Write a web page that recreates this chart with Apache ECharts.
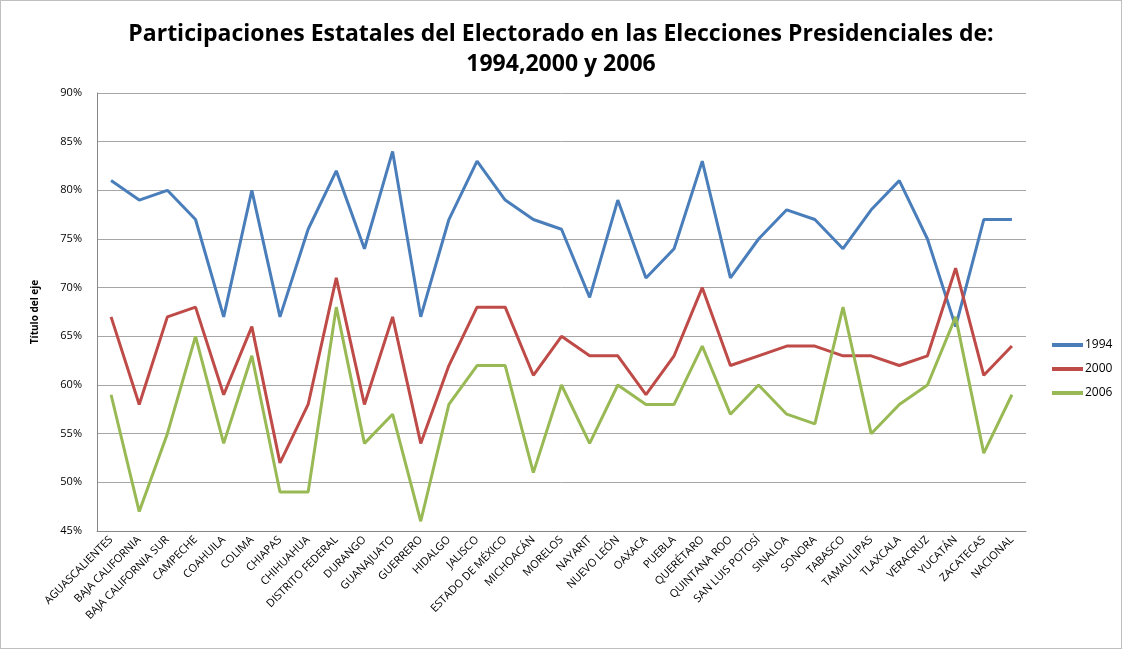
<!DOCTYPE html>
<html>
<head>
<meta charset="utf-8">
<script src="https://cdn.jsdelivr.net/npm/echarts@6/dist/echarts.min.js"></script>
<style>
html,body{margin:0;padding:0;background:#fff;}
#chart{width:1120px;height:647px;border:1px solid #bfbfbf;}
</style>
</head>
<body>
<div id="chart"></div>
<script>
const categories = ["AGUASCALIENTES","BAJA CALIFORNIA","BAJA CALIFORNIA SUR","CAMPECHE","COAHUILA","COLIMA","CHIAPAS","CHIHUAHUA","DISTRITO FEDERAL","DURANGO","GUANAJUATO","GUERRERO","HIDALGO","JALISCO","ESTADO DE MÉXICO","MICHOACÁN","MORELOS","NAYARIT","NUEVO LEÓN","OAXACA","PUEBLA","QUERÉTARO","QUINTANA ROO","SAN LUIS POTOSÍ","SINALOA","SONORA","TABASCO","TAMAULIPAS","TLAXCALA","VERACRUZ","YUCATÁN","ZACATECAS","NACIONAL"];
const values1994 = [81,79,80,77,67,80,67,76,82,74,84,67,77,83,79,77,76,69,79,71,74,83,71,75,78,77,74,78,81,75,66,77,77];
const values2000 = [67,58,67,68,59,66,52,58,71,58,67,54,62,68,68,61,65,63,63,59,63,70,62,63,64,64,63,63,62,63,72,61,64];
const values2006 = [59,47,55,65,54,63,49,49,68,54,57,46,58,62,62,51,60,54,60,58,58,64,57,60,57,56,68,55,58,60,67,53,59];
const seriesNames = ["1994","2000","2006"];
const yTicks = {min:45, max:90, interval:5};

const chart = echarts.init(document.getElementById('chart'));
const colors = ['#4a7ebb','#be4b48','#98b954'];
const font = "'Open Sans', 'DejaVu Sans', sans-serif";
chart.setOption({
  animation:false,
  color: colors,
  title: {
    text: 'Participaciones Estatales del Electorado en las Elecciones Presidenciales de:\n1994,2000 y 2006',
    left: 'center', top: 13,
    textStyle: {fontFamily: font, fontWeight:'bold', fontSize:23, lineHeight:30, color:'#000'}
  },
  legend: {
    orient:'vertical', left:1046, top:333, itemGap:12,
    itemWidth:31, itemHeight:4, icon:'rect',
    textStyle:{fontFamily:font, fontSize:12, color:'#000', padding:[0,0,0,-3]},
    data: seriesNames
  },
  grid: {left:96, right:95, top:92, bottom:117, containLabel:false},
  xAxis: {
    type:'category', data:categories, boundaryGap:true,
    axisLine:{lineStyle:{color:'#868686', width:1}},
    axisTick:{show:false},
    axisLabel:{rotate:45, fontFamily:font, fontSize:11, color:'#000', margin:7, interval:0}
  },
  yAxis: {
    type:'value', min:yTicks.min, max:yTicks.max, interval:yTicks.interval,
    name:'Título del eje', nameLocation:'middle', nameGap:57, nameRotate:90,
    nameTextStyle:{fontFamily:font, fontWeight:'bold', fontSize:10, color:'#000'},
    axisLine:{show:true, lineStyle:{color:'#868686'}},
    axisTick:{show:false},
    axisLabel:{formatter:'{value}%', fontFamily:font, fontSize:11, color:'#000', margin:15},
    splitLine:{lineStyle:{color:'#a6a6a6', width:1}}
  },
  series: [
    {name:seriesNames[0], type:'line', data:values1994, symbol:'none', lineStyle:{width:3}},
    {name:seriesNames[1], type:'line', data:values2000, symbol:'none', lineStyle:{width:3}},
    {name:seriesNames[2], type:'line', data:values2006, symbol:'none', lineStyle:{width:3}}
  ]
});
</script>
</body>
</html>
